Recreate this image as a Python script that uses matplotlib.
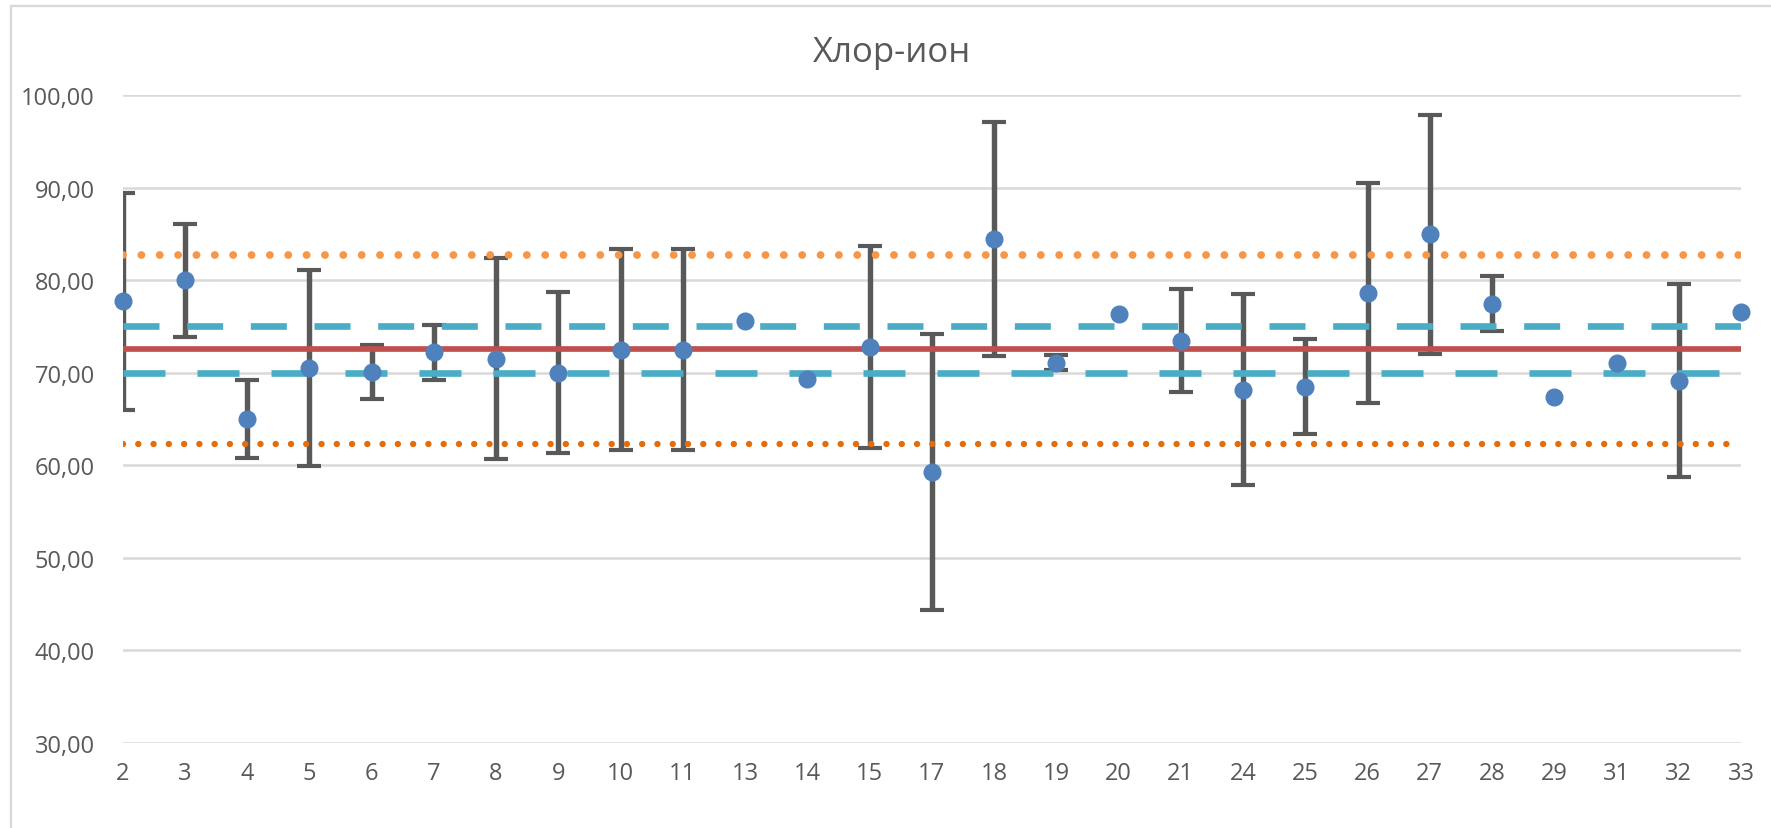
import matplotlib
matplotlib.use("Agg")
import matplotlib.pyplot as plt
from matplotlib.patches import Rectangle

# Sample numbers along the x axis
categories = ["2", "3", "4", "5", "6", "7", "8", "9", "10", "11", "13", "14", "15",
              "17", "18", "19", "20", "21", "24", "25", "26", "27", "28", "29",
              "31", "32", "33"]

# Measured chloride ion values
values = [77.7, 80.0, 65.0, 70.5, 70.1, 72.2, 71.5, 70.0, 72.5, 72.5, 75.55, 69.3,
          72.75, 59.3, 84.45, 71.1, 76.35, 73.45, 68.15, 68.5, 78.6, 84.95, 77.45,
          67.35, 71.0, 69.15, 76.6]

# Measurement uncertainty (0 = none reported)
errors = [11.7, 6.1, 4.25, 10.6, 2.9, 2.95, 10.85, 8.7, 10.9, 10.9, 0.0, 0.0,
          10.9, 14.9, 12.65, 0.8, 0.0, 5.55, 10.3, 5.15, 11.85, 12.9, 2.95,
          0.0, 0.0, 10.4, 0.0]

# Reference levels
mean_level = 72.55
inner_upper = 75.0
inner_lower = 70.0
outer_upper = 82.7
outer_lower = 62.3

y_ticks = [30, 40, 50, 60, 70, 80, 90, 100]
title = "Хлор-ион"

TEXT = "#595959"
GRID = "#D9D9D9"

plt.rcParams["font.family"] = ["Open Sans", "DejaVu Sans"]

W, H = 1771, 829
fig = plt.figure(figsize=(W / 100, H / 100), dpi=100)
fig.patch.set_facecolor("white")

# chart frame (extends past the right and bottom edges)
fig.patches.append(Rectangle((10.7 / W, -0.05), 1.2, 1 - 7.3 / H + 0.05,
                             transform=fig.transFigure, fill=False,
                             edgecolor=GRID, linewidth=1.7, zorder=0))

left, right = 122.5 / W, 1741 / W
bottom, top = 1 - 744 / H, 1 - 96 / H
ax = fig.add_axes([left, bottom, right - left, top - bottom])

x = list(range(len(categories)))
n = len(categories)

# error bars
ex, ey, ee = [], [], []
for i, (v, e) in enumerate(zip(values, errors)):
    if e > 0:
        ex.append(i)
        ey.append(v)
        ee.append(e)
ax.errorbar(ex, ey, yerr=ee, fmt="none", ecolor="#595959", elinewidth=3.9,
            capsize=8.5, capthick=3.0, zorder=2)

# reference lines
ax.plot([0, n - 1], [outer_upper] * 2, color="#F79646", linewidth=5.6,
        linestyle=(0, (0.01, 2.35)), dash_capstyle="round", zorder=3)
ax.plot([0, n - 1], [outer_lower] * 2, color="#E46C0A", linewidth=4.6,
        linestyle=(0, (0.01, 2.38)), dash_capstyle="round", zorder=3)
ax.plot([0, n - 1], [inner_upper] * 2, color="#4BACC6", linewidth=4.8,
        linestyle=(0, (5.4, 4.15)), dash_capstyle="butt", zorder=3)
ax.plot([0, n - 1], [inner_lower] * 2, color="#4BACC6", linewidth=4.8,
        linestyle=(0, (6.3, 4.8)), dash_capstyle="butt", zorder=3)
ax.plot([0, n - 1], [mean_level] * 2, color="#C0504D", linewidth=4.1,
        solid_capstyle="butt", zorder=3)

# measured points
ax.plot(x, values, linestyle="none", marker="o", markersize=12,
        markerfacecolor="#4F81BD", markeredgecolor="#4F81BD", zorder=4,
        clip_on=False)

ax.set_xlim(0, n - 1)
ax.set_ylim(30, 100)
ax.set_yticks(y_ticks)
ax.set_yticklabels([f"{t:.2f}".replace(".", ",") for t in y_ticks])
ax.set_xticks(x)
ax.set_xticklabels(categories)

ax.grid(axis="y", color=GRID, linewidth=1.8, zorder=0)
ax.set_axisbelow(True)
for s in ax.spines.values():
    s.set_visible(False)
ax.tick_params(axis="both", length=0, labelsize=17, colors=TEXT)
ax.tick_params(axis="y", pad=20)
ax.tick_params(axis="x", pad=13)

fig.text(892 / W, 1 - 53 / H, title, ha="center", va="center",
         fontsize=25, color=TEXT)

fig.savefig("out.png", dpi=100, facecolor="white")
